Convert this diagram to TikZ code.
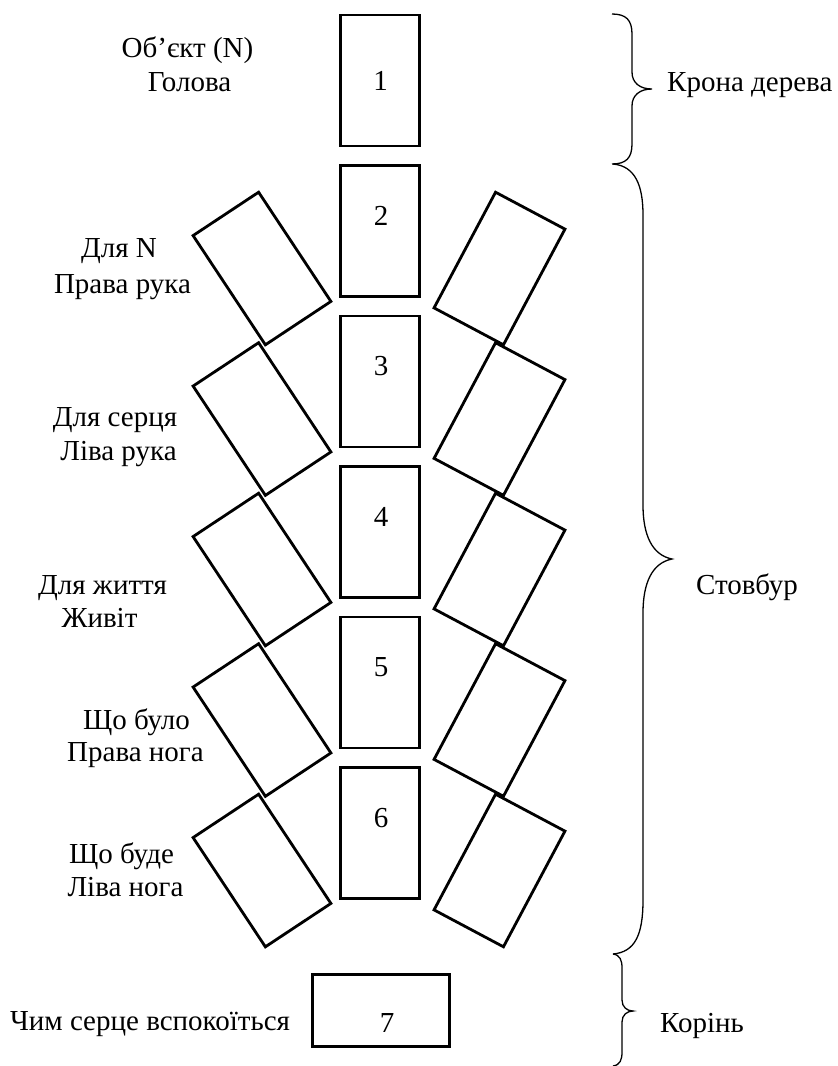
\documentclass[tikz,border=0pt]{standalone}
\usepackage{fontspec}
\setmainfont{Liberation Serif}
\begin{document}
\begin{tikzpicture}[x=1pt,y=-1pt,
  box/.style={draw,line width=2.8pt,minimum width=78.6pt,minimum height=131pt,inner sep=0pt},
  txt/.style={font=\fontsize{29}{35}\selectfont,inner sep=0pt,anchor=base},
  btxt/.style={font=\fontsize{29}{35}\selectfont,inner sep=0pt,anchor=base west},
  brace/.style={line width=1.3pt}]
\useasboundingbox (0,0) rectangle (838,1066);
% central column
\node[box] (b1) at (380,80.5) {};
\node[txt] (n1) at (380.5,90) {1};
\foreach \k in {2,...,6}{
  \node[box] (b\k) at (380,{231+150.5*(\k-2)}) {};
  \node[txt] (n\k) at (381,{225+150.5*(\k-2)}) {\k};
  \node[box,rotate=33.5] (l\k) at (262,{268.5+150.5*(\k-2)}) {};
  \node[box,rotate=-28] (r\k) at (499.5,{268.5+150.5*(\k-2)}) {};
}
\node[box,minimum width=137pt,minimum height=72pt] (b7) at (381,1010.5) {};
\node[txt] (n7) at (387,1032) {7};
% left labels
\node[txt] (t1a) at (187.5,57) {Об’єкт (N)};
\node[txt] (t1b) at (189.5,91) {Голова};
\node[txt] (t2a) at (119,257) {Для N};
\node[txt] (t2b) at (122.5,293) {Права рука};
\node[txt] (t3a) at (115,426) {Для серця};
\node[txt] (t3b) at (118.5,460) {Ліва рука};
\node[txt] (t4a) at (102.5,594) {Для життя};
\node[txt] (t4b) at (99.5,627) {Живіт};
\node[txt] (t5a) at (136.5,729) {Що було};
\node[txt] (t5b) at (135.5,761) {Права нога};
\node[txt] (t6a) at (121.5,863) {Що буде};
\node[txt] (t6b) at (125.5,896) {Ліва нога};
\node[txt] (t7) at (150,1030) {Чим серце вспокоїться};
% braces
\draw[brace] (612,14) .. controls (626,14) and (632,20) .. (632,34) -- (632,72)
  .. controls (632,83) and (640,89) .. (652,89)
  .. controls (640,89) and (632,95) .. (632,106) -- (632,144)
  .. controls (632,158) and (626,164) .. (612,164);
\draw[brace] (613,164) .. controls (635,166) and (643,185) .. (643,215) -- (643,505)
  .. controls (643,535) and (652,555) .. (672,559)
  .. controls (652,563) and (643,583) .. (643,613) -- (643,900)
  .. controls (643,935) and (635,952) .. (613,954);
\draw[brace] (613,954) .. controls (620,955) and (622,960) .. (622,968) -- (622,1000)
  .. controls (622,1007) and (627,1011) .. (633,1011)
  .. controls (627,1011) and (622,1015) .. (622,1022) -- (622,1052)
  .. controls (622,1060) and (620,1065) .. (613,1066);
\node[btxt] (c1) at (667,91) {Крона дерева};
\node[btxt] (c2) at (696,594) {Стовбур};
\node[btxt] (c3) at (660,1032) {Корінь};
\end{tikzpicture}
\end{document}
